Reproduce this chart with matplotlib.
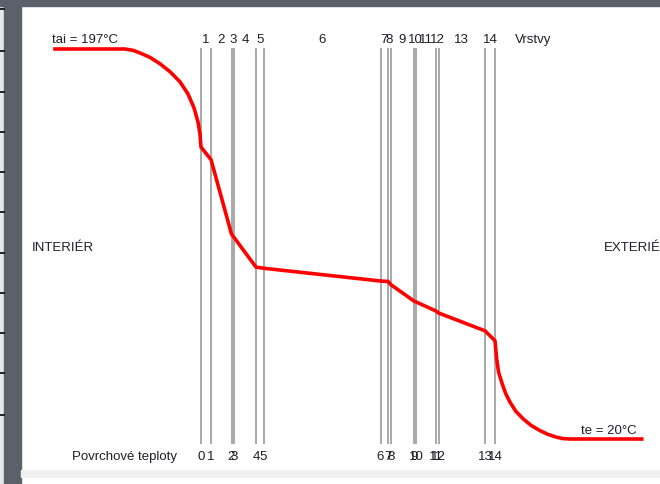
import matplotlib
matplotlib.use('Agg')
import matplotlib.pyplot as plt
from matplotlib.patches import Rectangle

# layer boundaries (distance from interior surface) and surface temperatures
boundaries = [0, 10, 30.5, 33, 55, 62.5, 179.5, 187, 190, 213, 215, 235, 237.5, 284, 294]
surface_temps = [152.5, 146.8, 113.0, 111.5, 98.0, 97.5, 91.7, 91.5, 90.0, 82.6, 82.2, 78.1, 77.2, 69.1, 64.6]
layer_labels = [str(i) for i in range(1, 15)]
boundary_labels = [str(i) for i in range(0, 15)]

# boundary layer on the interior side
inner_x = [-146, -76, -68, -61, -51, -41, -31, -21, -13, -7, -3, -1]
inner_t = [197.0, 197.0, 196.4, 195.2, 193.2, 190.3, 186.7, 182.1, 176.6, 170.3, 163.9, 158.4]
# boundary layer on the exterior side
outer_x = [294.8, 295.7, 297.5, 300.7, 304.5, 309, 315, 322.3, 330, 339, 347, 355.7, 362, 369, 440.7]
outer_t = [60.5, 56.3, 50.5, 45.7, 40.8, 36.7, 32.5, 29.1, 26.2, 23.8, 22.1, 20.8, 20.2, 20.0, 20.0]

t_in = 197
t_out = 20

fig = plt.figure(figsize=(6.6, 4.85), dpi=100)
ax = fig.add_axes([0, 0, 1, 1])
ax.set_xlim(-201, 459)
ax.set_ylim(-0.42, 219.69)
ax.axis('off')

font = ['Liberation Sans', 'DejaVu Sans']
fs = 9.5
tc = '#1e1e2a'

# layer boundaries
for b in boundaries:
    ax.axvline(b, ymin=0.0845, ymax=0.897, color='#a8a8a8', lw=1.4, zorder=1)

# temperature curve
xs = inner_x + boundaries + outer_x
ts = inner_t + surface_temps + outer_t
ax.plot(xs, ts, color='#ff0000', lw=2.6, solid_joinstyle='round', zorder=3)

# layer numbers on top, boundary numbers at the bottom
top = ax.get_xaxis_transform()
for i, lab in enumerate(layer_labels):
    mid = (boundaries[i] + boundaries[i + 1]) / 2
    ax.text(mid, 0.9175, lab, transform=top, ha='center', va='center',
            fontsize=fs, family=font, color=tc)
for b, lab in zip(boundaries, boundary_labels):
    ax.text(b, 0.0577, lab, transform=top, ha='center', va='center',
            fontsize=fs, family=font, color=tc)

ax.text(-149, 0.9175, 'tai = %d°C' % t_in, transform=top, ha='left', va='center',
        fontsize=fs, family=font, color=tc)
ax.text(314, 0.9175, 'Vrstvy', transform=top, ha='left', va='center',
        fontsize=fs, family=font, color=tc)
ax.text(-129, 0.0577, 'Povrchové teploty', transform=top, ha='left', va='center',
        fontsize=fs, family=font, color=tc)
ax.text(436, t_out + 1.5, 'te = %d°C' % t_out, ha='right', va='bottom',
        fontsize=fs, family=font, color=tc)
ax.text(-169, 0.488, 'INTERIÉR', transform=top, ha='left', va='center',
        fontsize=fs, family=font, color=tc)
ax.text(403, 0.488, 'EXTERIÉR', transform=top, ha='left', va='center',
        fontsize=fs, family=font, color=tc, clip_on=False)

# slide frame around the picture
W, H = 660.0, 485.0
fig.add_artist(Rectangle((0, 0), 4 / W, 1, transform=fig.transFigure, color='#e3e8ec', zorder=5))
fig.add_artist(Rectangle((4 / W, 0), 17 / W, 1, transform=fig.transFigure, color='#5b606a', zorder=5))
fig.add_artist(Rectangle((0, 1 - 7 / H), 1, 7 / H, transform=fig.transFigure, color='#5b606a', zorder=5))
fig.add_artist(Rectangle((21 / W, 7 / H), 1, 7 / H, transform=fig.transFigure, color='#f0f0f0', zorder=5))
tick_rows = [10, 51.7, 92.7, 133.3, 173.3, 213.3, 254, 294.3, 334.3, 374.3, 415.7]
for yy in tick_rows:
    fig.add_artist(plt.Line2D([0, 4 / W], [1 - yy / H, 1 - yy / H], transform=fig.transFigure,
                              color='black', lw=1.2, zorder=6))

fig.savefig('out.png', dpi=100)
